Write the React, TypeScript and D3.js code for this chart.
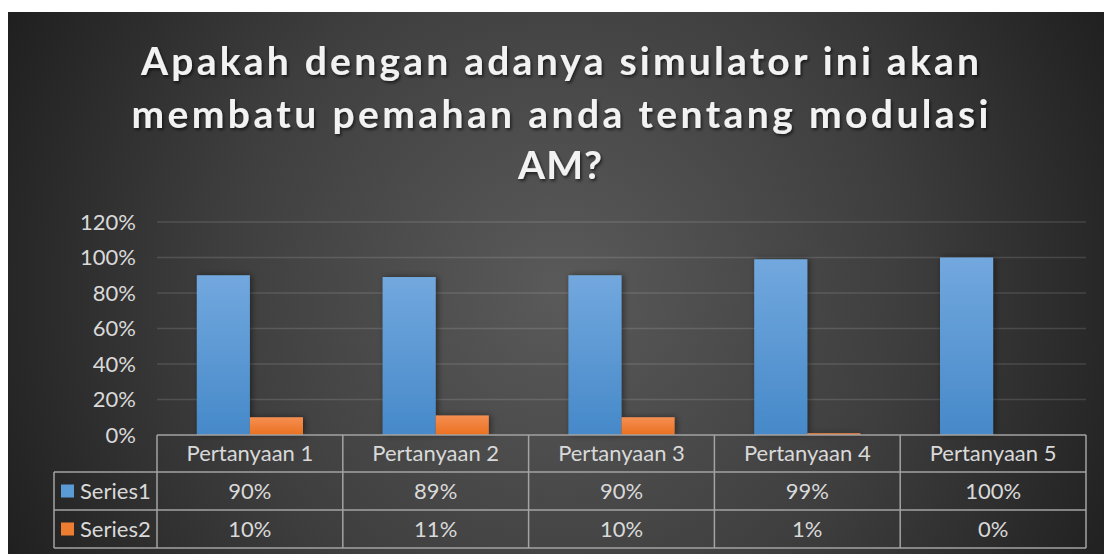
import * as d3 from 'd3'

const categories = ['Pertanyaan 1', 'Pertanyaan 2', 'Pertanyaan 3', 'Pertanyaan 4', 'Pertanyaan 5']
const seriesNames = ['Series1', 'Series2']
const series1 = [0.9, 0.89, 0.9, 0.99, 1.0]
const series2 = [0.1, 0.11, 0.1, 0.01, 0.0]
const yTicks = [0, 0.2, 0.4, 0.6, 0.8, 1.0, 1.2]
const titleLines = ['Apakah dengan adanya simulator ini akan', 'membatu pemahan anda tentang modulasi', 'AM?']

const W = 1104
const H = 554
const font = "Lato, 'Open Sans', 'DejaVu Sans', sans-serif"
const fs = 22

export default function App() {
  // area plot
  const plotLeft = 157
  const plotRight = 1086
  const x = d3.scaleBand<string>().domain(categories).range([plotLeft, plotRight]).padding(0)
  // gap width 150% seperti Excel
  const xs = d3.scaleBand<string>().domain(seriesNames).range([0, x.bandwidth()]).paddingInner(0).paddingOuter(0.75)
  const y = d3.scaleLinear().domain([0, 1.2]).range([435, 222])
  const pct = d3.format('.0%')

  const values = [series1, series2]
  const gradIds = ['gBlue', 'gOrange']
  const legendFill = ['#5b9bd5', '#ed7d31']

  const rowTop = [435, 472, 510]
  const rowH = [37, 38, 38]
  const tableBottom = 548
  const legendLeft = 54
  const lineColor = '#a3a3a3'

  const titleWidths = [838, 857, 84]
  const titleBase = [75, 128, 179]

  return (
    <div style={{ position: 'fixed', left: 0, top: 0, width: W, height: H, background: '#fff' }}>
      <svg width={W} height={H} style={{ display: 'block' }}>
        <defs>
          <radialGradient id="bg" gradientUnits="userSpaceOnUse" cx={560} cy={290} r={620}>
            <stop offset="0" stopColor="#5a5a5a" />
            <stop offset="0.55" stopColor="#3e3e3e" />
            <stop offset="1" stopColor="#1f1f1f" />
          </radialGradient>
          <linearGradient id="gBlue" x1="0" y1="0" x2="0" y2="1">
            <stop offset="0" stopColor="#72a8de" />
            <stop offset="1" stopColor="#4689c9" />
          </linearGradient>
          <linearGradient id="gOrange" x1="0" y1="0" x2="0" y2="1">
            <stop offset="0" stopColor="#f58f52" />
            <stop offset="1" stopColor="#ea701f" />
          </linearGradient>
          <filter id="shadow" x="-30%" y="-30%" width="160%" height="160%">
            <feDropShadow dx="2" dy="0" stdDeviation="3" floodColor="#000" floodOpacity="0.45" />
          </filter>
          <filter id="tshadow" x="-5%" y="-20%" width="110%" height="150%">
            <feDropShadow dx="1.5" dy="2" stdDeviation="1.5" floodColor="#000" floodOpacity="0.6" />
          </filter>
        </defs>

        <rect x={8} y={12} width={W - 8} height={H - 12} fill="url(#bg)" />

        {/* judul */}
        <g filter="url(#tshadow)">
          {titleLines.map((t, i) => (
            <text
              key={i}
              x={560}
              y={titleBase[i]}
              textAnchor="middle"
              fontFamily={font}
              fontWeight={700}
              fontSize={39}
              fill="#f2f2f2"
              textLength={titleWidths[i]}
              lengthAdjust="spacing"
            >
              {t}
            </text>
          ))}
        </g>

        {/* gridlines */}
        {yTicks.filter(t => t > 0).map(t => (
          <line key={t} x1={plotLeft} x2={plotRight} y1={y(t)} y2={y(t)} stroke="#ffffff" strokeOpacity={0.13} strokeWidth={1.5} />
        ))}

        {/* label sumbu Y */}
        {yTicks.map(t => (
          <text key={t} x={136} y={y(t)} dy="0.35em" textAnchor="end" fontFamily={font} fontSize={fs} fill="#d9d9d9">
            {pct(t)}
          </text>
        ))}

        {/* batang */}
        <g filter="url(#shadow)">
          {values.map((vals, si) =>
            categories.map((c, ci) => {
              const v = vals[ci]
              if (v <= 0) return null
              const x0 = (x(c) ?? 0) + (xs(seriesNames[si]) ?? 0)
              return (
                <rect
                  key={`${si}-${ci}`}
                  x={x0}
                  y={y(v)}
                  width={xs.bandwidth()}
                  height={Math.max(1.5, y(0) - y(v))}
                  fill={`url(#${gradIds[si]})`}
                />
              )
            })
          )}
        </g>

        {/* tabel data */}
        <g stroke={lineColor} strokeWidth={1.5} fill="none">
          <line x1={plotLeft} x2={plotRight} y1={rowTop[0]} y2={rowTop[0]} />
          <line x1={legendLeft} x2={plotRight} y1={rowTop[1]} y2={rowTop[1]} />
          <line x1={legendLeft} x2={plotRight} y1={rowTop[2]} y2={rowTop[2]} />
          <line x1={legendLeft} x2={plotRight} y1={tableBottom} y2={tableBottom} />
          <line x1={legendLeft} x2={legendLeft} y1={rowTop[1]} y2={tableBottom} />
          {categories.map(c => (
            <line key={c} x1={x(c)} x2={x(c)} y1={rowTop[0]} y2={tableBottom} />
          ))}
          <line x1={plotRight} x2={plotRight} y1={rowTop[0]} y2={tableBottom} />
        </g>

        {categories.map(c => (
          <text
            key={c}
            x={(x(c) ?? 0) + x.bandwidth() / 2}
            y={rowTop[0] + rowH[0] / 2}
            dy="0.35em"
            textAnchor="middle"
            fontFamily={font}
            fontSize={fs}
            fill="#d9d9d9"
          >
            {c}
          </text>
        ))}

        {values.map((vals, si) => (
          <g key={si}>
            <rect x={61} y={rowTop[si + 1] + rowH[si + 1] / 2 - 6.5} width={13} height={13} fill={legendFill[si]} />
            <text x={80} y={rowTop[si + 1] + rowH[si + 1] / 2} dy="0.35em" fontFamily={font} fontSize={fs} fill="#d9d9d9">
              {seriesNames[si]}
            </text>
            {categories.map((c, ci) => (
              <text
                key={c}
                x={(x(c) ?? 0) + x.bandwidth() / 2}
                y={rowTop[si + 1] + rowH[si + 1] / 2}
                dy="0.35em"
                textAnchor="middle"
                fontFamily={font}
                fontSize={fs}
                fill="#d9d9d9"
              >
                {pct(vals[ci])}
              </text>
            ))}
          </g>
        ))}
      </svg>
    </div>
  )
}
